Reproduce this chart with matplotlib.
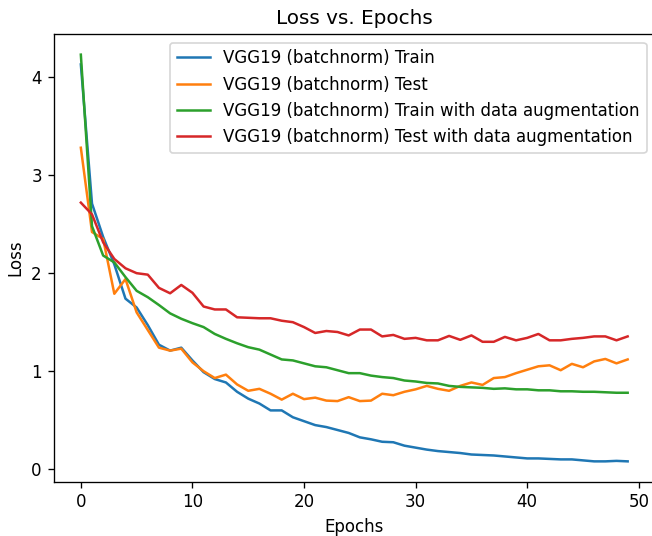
import matplotlib
matplotlib.use('Agg')
import matplotlib.pyplot as plt

# loss values per epoch
epochs = list(range(50))

train = [4.13, 2.71, 2.37, 2.09, 1.74, 1.65, 1.47, 1.27, 1.21, 1.24,
         1.11, 0.99, 0.92, 0.885, 0.79, 0.72, 0.67, 0.60, 0.60, 0.53,
         0.49, 0.45, 0.43, 0.40, 0.37, 0.325, 0.305, 0.28, 0.275, 0.24,
         0.22, 0.20, 0.185, 0.175, 0.165, 0.15, 0.145, 0.14, 0.13, 0.12,
         0.11, 0.11, 0.105, 0.10, 0.10, 0.09, 0.08, 0.08, 0.085, 0.08]

test = [3.28, 2.42, 2.35, 1.79, 1.94, 1.60, 1.42, 1.24, 1.21, 1.23,
        1.09, 1.0, 0.93, 0.965, 0.865, 0.80, 0.82, 0.77, 0.71, 0.77,
        0.715, 0.73, 0.70, 0.695, 0.735, 0.695, 0.70, 0.77, 0.755, 0.79,
        0.815, 0.85, 0.82, 0.80, 0.85, 0.885, 0.86, 0.93, 0.94, 0.98,
        1.015, 1.05, 1.06, 1.01, 1.075, 1.04, 1.10, 1.125, 1.08, 1.12]

train_aug = [4.23, 2.48, 2.18, 2.11, 1.96, 1.82, 1.755, 1.675, 1.59, 1.535,
             1.49, 1.45, 1.38, 1.33, 1.285, 1.245, 1.22, 1.17, 1.12, 1.11,
             1.08, 1.05, 1.04, 1.01, 0.98, 0.98, 0.955, 0.94, 0.93, 0.905,
             0.895, 0.88, 0.875, 0.85, 0.84, 0.835, 0.83, 0.82, 0.825, 0.815,
             0.815, 0.805, 0.805, 0.795, 0.795, 0.79, 0.79, 0.785, 0.78, 0.78]

test_aug = [2.72, 2.60, 2.315, 2.145, 2.05, 2.0, 1.985, 1.85, 1.795, 1.88,
            1.80, 1.66, 1.63, 1.63, 1.55, 1.545, 1.54, 1.54, 1.515, 1.50,
            1.45, 1.39, 1.41, 1.40, 1.365, 1.425, 1.425, 1.355, 1.37, 1.33,
            1.34, 1.315, 1.315, 1.36, 1.32, 1.365, 1.30, 1.30, 1.35, 1.315,
            1.34, 1.38, 1.315, 1.315, 1.33, 1.34, 1.355, 1.355, 1.315, 1.355]

labels = ['VGG19 (batchnorm) Train',
          'VGG19 (batchnorm) Test',
          'VGG19 (batchnorm) Train with data augmentation',
          'VGG19 (batchnorm) Test with data augmentation']

fig = plt.figure(figsize=(652 / 120, 536 / 120), dpi=120)
# the reference is cropped just past the right spine
ax = fig.add_axes([53.5 / 652, 54.3 / 536, 601.5 / 652, 447.4 / 536])

for series, label in zip([train, test, train_aug, test_aug], labels):
    ax.plot(epochs, series, label=label)

ax.set_title('Loss vs. Epochs')
ax.set_xlabel('Epochs')
ax.set_ylabel('Loss')
ax.legend(loc='upper right')

fig.savefig('out.png', dpi=120)
